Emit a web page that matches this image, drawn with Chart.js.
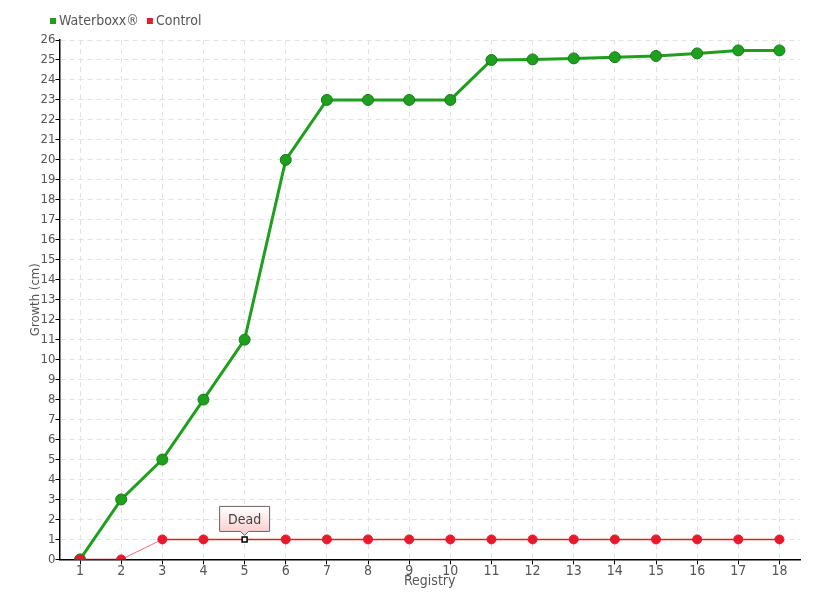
<!DOCTYPE html>
<html><head><meta charset="utf-8">
<script src="https://cdn.jsdelivr.net/npm/chart.js@4/dist/chart.umd.min.js"></script>
<style>html,body{margin:0;padding:0;background:#fff}#wrap{width:820px;height:600px}</style>
</head><body><div id="wrap"><canvas id="c" width="820" height="600"></canvas></div>
<script>
const categories = ['1','2','3','4','5','6','7','8','9','10','11','12','13','14','15','16','17','18'];
const waterboxx = [0,3,5,8,11,20,23,23,23,23,25,25.03,25.08,25.14,25.2,25.33,25.48,25.48];
const control = [0,0,1,1,1,1,1,1,1,1,1,1,1,1,1,1,1,1];
const annotationIndex = 4;
const annotationText = 'Dead';
const yTicksMax = 26;

const FONT = '"DejaVu Sans", sans-serif';
const STRETCH = 'condensed';
const TXT = '#555';
const F = (size) => ({ family: FONT, size: size, weight: STRETCH });

const calloutPlugin = {
  id: 'callout',
  afterDatasetsDraw(chart) {
    const meta = chart.getDatasetMeta(1);
    const el = meta.data[annotationIndex];
    if (!el) return;
    const ctx = chart.ctx;
    const px = el.x, py = el.y;
    const w = 50, h = 25;
    const x0 = px - w/2, y1 = py - 8, y0 = y1 - h;
    ctx.save();
    const g = ctx.createLinearGradient(0, y0, 0, y1);
    g.addColorStop(0, '#ffffff');
    g.addColorStop(1, '#fbd0d0');
    ctx.beginPath();
    ctx.moveTo(x0, y0);
    ctx.lineTo(x0 + w, y0);
    ctx.lineTo(x0 + w, y1);
    ctx.lineTo(px + 4, y1);
    ctx.lineTo(px, y1 + 4);
    ctx.lineTo(px - 4, y1);
    ctx.lineTo(x0, y1);
    ctx.closePath();
    ctx.fillStyle = g;
    ctx.fill();
    ctx.strokeStyle = '#666';
    ctx.lineWidth = 1;
    ctx.stroke();
    ctx.fillStyle = '#444';
    ctx.font = STRETCH + ' 14px ' + FONT;
    ctx.textAlign = 'center';
    ctx.textBaseline = 'middle';
    ctx.fillText(annotationText, px, (y0 + y1)/2 + 1);
    ctx.restore();
  }
};

const legendPlugin = {
  id: 'customLegend',
  afterDraw(chart) {
    const ctx = chart.ctx;
    ctx.save();
    ctx.font = STRETCH + ' 14px ' + FONT;
    ctx.textBaseline = 'middle';
    let x = 50;
    const y = 21;
    chart.data.datasets.forEach(d => {
      ctx.fillStyle = d.borderColor;
      ctx.fillRect(x, y - 3, 6, 6);
      x += 9;
      ctx.fillStyle = TXT;
      ctx.textAlign = 'left';
      ctx.fillText(d.label, x, y);
      x += ctx.measureText(d.label).width + 8;
    });
    ctx.restore();
  }
};

const ctrlPointStyle = control.map((v,i)=> i===annotationIndex ? 'rect' : 'circle');
const ctrlPointRadius = control.map((v,i)=> i===annotationIndex ? 3.5 : 4.5);
const ctrlPointBg = control.map((v,i)=> i===annotationIndex ? '#fff' : '#e8182d');
const ctrlPointBorder = control.map((v,i)=> i===annotationIndex ? '#000' : '#e8182d');
const ctrlPointBW = control.map((v,i)=> i===annotationIndex ? 1.5 : 1);

new Chart(document.getElementById('c'), {
  type: 'line',
  data: {
    labels: categories,
    datasets: [
      {
        label: 'Waterboxx®',
        data: waterboxx,
        borderColor: '#1ea01e',
        backgroundColor: '#1ea01e',
        borderWidth: 3,
        pointRadius: 5.5,
        pointBackgroundColor: '#1ea01e',
        pointBorderColor: '#177a17',
        pointBorderWidth: 1,
        tension: 0,
        order: 2
      },
      {
        label: 'Control',
        data: control,
        borderColor: '#e8182d',
        backgroundColor: '#e8182d',
        borderWidth: 1.5,
        pointRadius: ctrlPointRadius,
        pointStyle: ctrlPointStyle,
        pointBackgroundColor: ctrlPointBg,
        pointBorderColor: ctrlPointBorder,
        pointBorderWidth: ctrlPointBW,
        segment: {
          borderColor: c => c.p0DataIndex === 1 ? '#f2707c' : '#e8182d',
          borderWidth: c => c.p0DataIndex === 1 ? 1 : 1.5
        },
        tension: 0,
        order: 1
      }
    ]
  },
  options: {
    responsive: false,
    animation: false,
    layout: { padding: { left: 28, right: 20, top: 40, bottom: 10 } },
    plugins: {
      legend: { display: false },
      tooltip: { enabled: false }
    },
    scales: {
      x: {
        offset: true,
        grid: {
          offset: false,
          color: '#e2e2e2',
          tickColor: '#000',
          tickLength: 5
        },
        border: { color: '#000', width: 1.5, dash: [5, 4] },
        ticks: { color: TXT, font: F(14), padding: -1, autoSkip: false, maxRotation: 0 },
        title: { display: true, text: 'Registry', color: TXT, font: F(14), padding: { top: -6, bottom: 0 } }
      },
      y: {
        min: 0, max: yTicksMax,
        grid: { color: '#e2e2e2', tickColor: '#000', tickLength: 4 },
        border: { color: '#000', width: 1.5, dash: [5, 4] },
        ticks: { stepSize: 1, color: TXT, font: F(13), padding: 0, autoSkip: false },
        title: { display: true, text: 'Growth (cm)', color: TXT, font: F(13), padding: { top: 0, bottom: -3 } }
      }
    }
  },
  plugins: [calloutPlugin, legendPlugin]
});
</script>
</body></html>
